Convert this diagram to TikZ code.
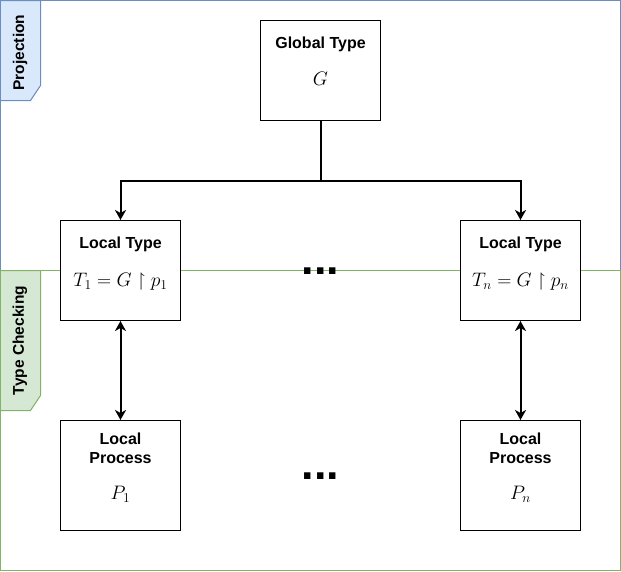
\documentclass[tikz,border=0pt]{standalone}
\usepackage{amsmath,amssymb,graphicx}
\usepackage{fontspec}
\newfontfamily\lab{Liberation Sans}
\usetikzlibrary{arrows.meta,calc}
\definecolor{pblue}{HTML}{6C8EBF}
\definecolor{pbluefill}{HTML}{DAE8FC}
\definecolor{tgreen}{HTML}{82B366}
\definecolor{tgreenfill}{HTML}{D5E8D4}
\newcommand{\mbig}[1]{\scalebox{1.13}{#1}}
\tikzset{
  box/.style={draw=black, fill=white, line width=1pt, minimum width=120pt, minimum height=100pt, inner sep=0pt},
  pbox/.style={draw=black, fill=white, line width=1pt, minimum width=120pt, minimum height=110pt, inner sep=0pt},
  lbl/.style={font=\lab\bfseries\fontsize{16}{18.5}\selectfont, inner sep=0pt, align=center},
  mth/.style={font=\fontsize{17.28}{20}\selectfont, inner sep=0pt},
  conn/.style={line width=2pt, -{Stealth[length=10pt,width=11pt,inset=3pt]}},
  dconn/.style={line width=2pt, {Stealth[length=10pt,width=11pt,inset=3pt]}-{Stealth[length=10pt,width=11pt,inset=3pt]}},
  dots/.style={font=\lab\bfseries\fontsize{45}{45}\selectfont, inner sep=0pt, anchor=base},
  tablbl/.style={font=\lab\bfseries\fontsize{15.5}{18}\selectfont, inner sep=0pt, rotate=90}
}
\begin{document}
\begin{tikzpicture}[x=1pt,y=-1pt]
\useasboundingbox (-0.5,-0.5) rectangle (620.5,570.5);
% Projection frame
\draw[pblue, line width=1pt] (0,0) rectangle (620,270);
\draw[pblue, fill=pbluefill, line width=1pt] (0,0) -- (40,0) -- (40,85) -- (30,100) -- (0,100) -- cycle;
\node[tablbl] (projlbl) at (19.5,52) {Projection};
% Type checking frame
\draw[tgreen, line width=1pt] (0,270) rectangle (620,570);
\draw[tgreen, fill=tgreenfill, line width=1pt] (0,270) -- (40,270) -- (40,395) -- (30,410) -- (0,410) -- cycle;
\node[tablbl] (tclbl) at (19.5,340) {Type Checking};
% boxes
\node[box] (g) at (320,70) {};
\node[box] (t1) at (120,270) {};
\node[box] (tn) at (520,270) {};
\node[pbox] (p1) at (120,475) {};
\node[pbox] (pn) at (520,475) {};
% labels
\node[lbl] (glab) at (320,44) {Global Type};
\node[mth] (gm) at (320,78) {\mbig{$G$}};
\node[lbl] (t1lab) at (120,244) {Local Type};
\node[mth] (t1m) at (120,281) {\mbig{$T_1 = G \upharpoonright p_1$}};
\node[lbl] (tnlab) at (520,244) {Local Type};
\node[mth] (tnm) at (520,281) {\mbig{$T_n = G \upharpoonright p_n$}};
\node[lbl] (p1lab) at (120,448) {Local\\Process};
\node[mth] (p1m) at (120,494) {\mbig{$P_1$}};
\node[lbl] (pnlab) at (520,448) {Local\\Process};
\node[mth] (pnm) at (520,494) {\mbig{$P_n$}};
% dots
\node[dots] (d1) at (320,273.5) {...};
\node[dots] (d2) at (320,478.5) {...};
% connectors
\coordinate (split) at (320,180);
\draw[line width=2pt] (g.south) -- (split);
\draw[conn] (split) -| (t1.north);
\draw[conn] (split) -| (tn.north);
\draw[dconn] (t1.south) -- (p1.north);
\draw[dconn] (tn.south) -- (pn.north);
\end{tikzpicture}
\end{document}
